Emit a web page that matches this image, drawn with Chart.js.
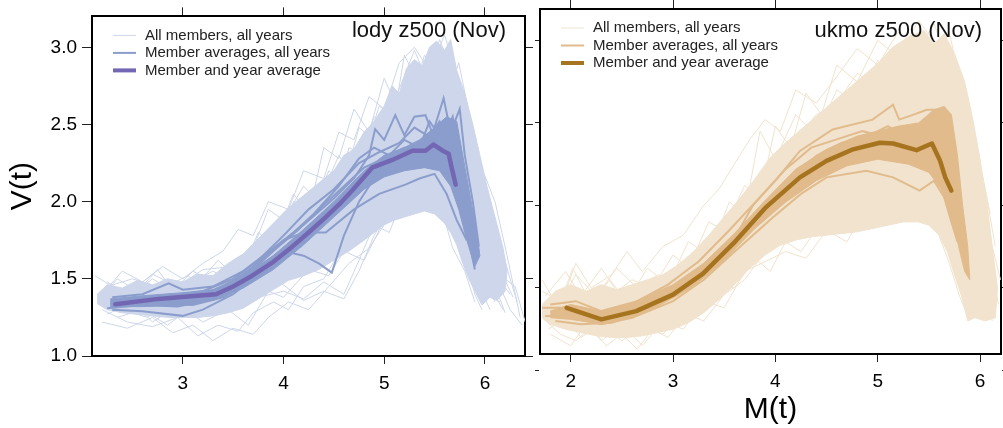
<!DOCTYPE html>
<html>
<head>
<meta charset="utf-8">
<script src="https://cdn.jsdelivr.net/npm/chart.js@4.4.1/dist/chart.umd.min.js"></script>
<style>
  body { margin: 0; background: #fff; }
  #wrap { position: relative; width: 1003px; height: 428px; }
  canvas { position: absolute; top: 0; }
  #lody { left: 0; }
  #ukmo { left: 528px; }
</style>
</head>
<body>
<div id="wrap">
  <canvas id="lody" width="535" height="428"></canvas>
  <canvas id="ukmo" width="475" height="428"></canvas>
</div>
<script>
// ---- data: [M(t), V(t)] pairs ----
var legendLabels = ['All members, all years', 'Member averages, all years', 'Member and year average'];
var vTicks = [1.0, 1.5, 2.0, 2.5, 3.0];
var lodyXTicks = [3, 4, 5, 6];
var ukmoXTicks = [2, 3, 4, 5, 6];

// lody
var lodyMean = [[2.33,1.335],[2.76,1.37],[3.05,1.385],[3.33,1.40],[3.5,1.45],[3.69,1.52],[3.9,1.61],[4.09,1.71],[4.25,1.80],[4.42,1.90],[4.55,1.98],[4.68,2.07],[4.80,2.16],[4.88,2.22],[5.08,2.27],[5.28,2.33],[5.41,2.33],[5.49,2.37],[5.58,2.33],[5.64,2.31],[5.67,2.22],[5.71,2.11]];

var lodyBand = [[2.15,1.40],[2.25,1.46],[2.4,1.44],[2.55,1.49],[2.7,1.46],[2.85,1.50],[3.0,1.48],[3.15,1.53],[3.3,1.52],[3.45,1.60],[3.6,1.66],[3.75,1.76],[3.9,1.86],[4.05,1.96],[4.2,2.04],[4.35,2.12],[4.5,2.20],[4.6,2.30],[4.7,2.34],[4.8,2.45],[4.9,2.52],[5.0,2.62],[5.08,2.75],[5.15,2.70],[5.22,2.86],[5.3,2.92],[5.38,2.88],[5.45,3.0],[5.52,3.04],[5.6,2.98],[5.66,3.05],[5.72,2.85],[5.8,2.70],[5.88,2.50],[5.95,2.30],[6.02,2.10],[6.1,1.90],[6.18,1.70],[6.22,1.55],
  [6.2,1.42],[6.12,1.36],[6.05,1.38],[5.97,1.33],[5.9,1.42],[5.84,1.50],[5.78,1.60],[5.72,1.72],[5.66,1.80],[5.6,1.86],[5.5,1.92],[5.4,1.94],[5.3,1.92],[5.2,1.90],[5.1,1.88],[5.0,1.85],[4.9,1.80],[4.8,1.75],[4.65,1.68],[4.5,1.62],[4.35,1.56],[4.2,1.52],[4.05,1.49],[3.9,1.43],[3.75,1.37],[3.6,1.31],[3.45,1.28],[3.3,1.26],[3.15,1.25],[3.0,1.25],[2.85,1.25],[2.7,1.26],[2.55,1.27],[2.4,1.28],[2.25,1.30],[2.15,1.34]];

var lodyMembers = [
  [[2.13,1.52],[2.3,1.45],[2.5,1.40],[2.7,1.50],[2.9,1.42],[3.1,1.55],[3.3,1.48],[3.5,1.62],[3.7,1.70],[3.85,1.95],[4.0,1.88],[4.2,2.1],[4.35,2.0],[4.55,2.3],[4.7,2.15],[4.9,2.55],[5.1,2.45],[5.25,2.8],[5.4,2.7],[5.55,3.05],[5.7,2.8],[5.85,2.4],[6.0,2.0],[6.1,1.7]],
  [[2.2,1.30],[2.45,1.22],[2.7,1.19],[2.95,1.25],[3.15,1.13],[3.35,1.20],[3.55,1.16],[3.7,1.28],[3.9,1.35],[4.05,1.30],[4.2,1.45],[4.4,1.50],[4.6,1.72],[4.8,1.85],[5.0,2.05],[5.2,2.2],[5.4,2.4],[5.6,2.3],[5.75,2.0],[5.85,1.75],[5.95,1.45],[6.05,1.3]],
  [[2.3,1.36],[2.5,1.30],[2.75,1.35],[3.0,1.28],[3.25,1.38],[3.5,1.34],[3.7,1.45],[3.95,1.60],[4.1,1.55],[4.3,1.75],[4.45,1.70],[4.6,1.95],[4.8,2.25],[4.95,2.1],[5.1,2.5],[5.3,2.35],[5.45,2.65],[5.6,2.55],[5.72,2.25],[5.85,1.95],[6.0,1.6],[6.15,1.45],[6.25,1.3],[6.37,1.2]],
  [[2.25,1.45],[2.5,1.50],[2.8,1.44],[3.05,1.52],[3.3,1.40],[3.55,1.55],[3.75,1.62],[3.95,1.82],[4.15,1.78],[4.35,2.05],[4.5,1.98],[4.65,2.35],[4.8,2.3],[4.95,2.62],[5.1,2.55],[5.2,2.95],[5.35,2.75],[5.5,2.9],[5.65,2.7],[5.8,2.4],[5.95,2.1],[6.1,1.85],[6.25,1.5],[6.32,1.35]],
  [[2.35,1.25],[2.6,1.30],[2.85,1.20],[3.05,1.30],[3.3,1.27],[3.55,1.38],[3.8,1.50],[4.0,1.46],[4.2,1.36],[4.4,1.42],[4.6,1.37],[4.75,1.55],[4.9,1.78],[5.05,1.95],[5.2,2.1],[5.35,2.2],[5.5,2.15],[5.65,2.0],[5.75,1.8],[5.85,1.6],[5.95,1.4]],
  [[2.2,1.40],[2.4,1.55],[2.6,1.48],[2.8,1.58],[3.0,1.50],[3.2,1.60],[3.4,1.68],[3.55,1.82],[3.7,1.78],[3.85,2.0],[4.05,1.95],[4.2,2.2],[4.4,2.15],[4.55,2.45],[4.7,2.4],[4.85,2.68],[5.0,2.6],[5.15,2.9],[5.3,3.0],[5.45,2.85],[5.6,3.08],[5.75,2.75],[5.9,2.35],[6.05,1.95],[6.2,1.6]],
  [[2.28,1.33],[2.55,1.38],[2.8,1.30],[3.1,1.42],[3.35,1.35],[3.6,1.50],[3.8,1.45],[4.0,1.65],[4.2,1.62],[4.4,1.85],[4.55,1.80],[4.7,2.0],[4.85,1.95],[5.0,2.3],[5.15,2.2],[5.35,2.45],[5.5,2.35],[5.62,2.55],[5.75,2.2],[5.88,1.8],[6.0,1.5],[6.1,1.35]],
  [[2.2,1.36],[2.45,1.33],[2.7,1.40],[2.95,1.36],[3.2,1.46],[3.45,1.42],[3.7,1.58],[3.9,1.70],[4.1,1.85],[4.3,1.95],[4.5,2.1],[4.7,2.2],[4.9,2.35],[5.1,2.4],[5.3,2.6],[5.5,2.7],[5.65,2.6],[5.8,2.3],[5.95,2.0],[6.1,1.75],[6.2,1.5],[6.3,1.45],[6.4,1.22]],
  [[2.3,1.30],[2.6,1.35],[2.9,1.28],[3.2,1.32],[3.5,1.30],[3.75,1.38],[4.0,1.42],[4.2,1.37],[4.4,1.48],[4.6,1.40],[4.75,1.62],[4.9,1.85],[5.05,1.80],[5.2,2.05],[5.4,2.1],[5.55,2.0],[5.68,1.7],[5.8,1.55],[5.9,1.35]],
  [[2.4,1.42],[2.65,1.36],[2.9,1.45],[3.15,1.40],[3.4,1.50],[3.65,1.56],[3.9,1.75],[4.1,1.70],[4.3,1.92],[4.5,1.88],[4.7,2.1],[4.9,2.02],[5.1,2.25],[5.3,2.18],[5.45,2.45],[5.6,2.3],[5.7,2.05],[5.82,1.85],[5.92,1.62],[6.05,1.45],[6.18,1.3]],
  [[2.25,1.48],[2.45,1.40],[2.7,1.53],[2.95,1.45],[3.2,1.56],[3.5,1.58],[3.7,1.65],[3.95,1.72],[4.1,2.0],[4.3,1.96],[4.45,2.2],[4.6,2.12],[4.75,2.48],[4.9,2.4],[5.05,2.7],[5.25,2.6],[5.4,2.95],[5.55,2.8],[5.7,2.5],[5.82,2.1],[5.95,1.8],[6.08,1.55],[6.25,1.4]],
  [[2.2,1.22],[2.45,1.18],[2.7,1.25],[2.9,1.15],[3.1,1.20],[3.3,1.10],[3.5,1.18],[3.7,1.14],[3.85,1.25],[4.05,1.35],[4.25,1.30],[4.45,1.45],[4.65,1.60],[4.85,1.70],[5.05,1.9],[5.25,2.0],[5.45,2.15],[5.6,2.1],[5.72,1.85],[5.82,1.6],[5.9,1.4],[5.97,1.3]],
  [[2.15,1.35],[2.35,1.50],[2.55,1.42],[2.75,1.56],[2.95,1.38],[3.15,1.47],[3.35,1.62],[3.55,1.50],[3.75,1.80],[3.9,1.72],[4.1,2.05],[4.25,1.92],[4.4,2.35],[4.55,2.28],[4.7,2.6],[4.85,2.45],[5.0,2.8],[5.1,2.65],[5.3,2.98],[5.45,2.75],[5.6,2.95],[5.72,2.6],[5.85,2.25],[5.98,1.9],[6.12,1.6],[6.28,1.38]],
  [[2.25,1.27],[2.5,1.35],[2.7,1.22],[2.95,1.33],[3.2,1.22],[3.45,1.30],[3.65,1.20],[3.85,1.42],[4.0,1.38],[4.25,1.56],[4.45,1.52],[4.6,1.68],[4.8,1.62],[5.0,1.88],[5.2,1.92],[5.4,2.05],[5.55,2.25],[5.68,2.0],[5.78,1.7],[5.88,1.5],[6.0,1.4],[6.15,1.35]],
  [[2.3,1.40],[2.55,1.45],[2.8,1.36],[3.05,1.46],[3.3,1.55],[3.5,1.48],[3.7,1.66],[3.9,1.62],[4.1,1.90],[4.3,1.82],[4.5,2.2],[4.65,2.05],[4.85,2.4],[5.0,2.3],[5.2,2.62],[5.35,2.52],[5.5,2.8],[5.62,2.65],[5.74,2.9],[5.85,2.55],[5.98,2.2],[6.1,2.0],[6.22,1.65],[6.35,1.25]],
  [[2.4,1.30],[2.65,1.25],[2.9,1.35],[3.1,1.26],[3.35,1.45],[3.55,1.35],[3.8,1.58],[4.0,1.55],[4.2,1.78],[4.4,1.70],[4.6,2.02],[4.8,1.98],[5.0,2.2],[5.15,2.12],[5.35,2.35],[5.5,2.2],[5.65,2.45],[5.78,2.1],[5.9,1.85],[6.02,1.55],[6.12,1.42],[6.2,1.28]]
];

var lodyAvgBand = [[2.28,1.37],[2.6,1.39],[3.0,1.41],[3.3,1.43],[3.6,1.52],[3.9,1.65],[4.2,1.82],[4.5,2.0],[4.8,2.2],[5.0,2.30],[5.2,2.35],[5.35,2.40],[5.5,2.48],[5.62,2.55],[5.72,2.52],[5.78,2.30],[5.85,2.05],[5.92,1.80],[5.95,1.65],
  [5.9,1.58],[5.82,1.75],[5.74,1.95],[5.66,2.10],[5.55,2.20],[5.4,2.22],[5.2,2.20],[5.0,2.16],[4.8,2.08],[4.5,1.90],[4.2,1.72],[3.9,1.56],[3.6,1.44],[3.3,1.36],[3.0,1.33],[2.6,1.32],[2.28,1.32]];

var lodyMemberAvgs = [
  [[2.3,1.38],[2.6,1.40],[2.86,1.47],[3.0,1.43],[3.3,1.45],[3.6,1.55],[3.9,1.70],[4.2,1.85],[4.5,2.02],[4.7,2.15],[4.85,2.30],[4.91,2.47],[5.0,2.40],[5.11,2.56],[5.2,2.43],[5.3,2.55],[5.41,2.56],[5.48,2.44],[5.59,2.67],[5.66,2.45],[5.75,2.60],[5.8,2.3],[5.88,2.0],[5.94,1.71]],
  [[2.3,1.30],[2.6,1.29],[3.0,1.26],[3.2,1.30],[3.5,1.40],[3.8,1.55],[4.0,1.68],[4.2,1.65],[4.35,1.60],[4.48,1.54],[4.6,1.78],[4.75,2.0],[4.9,2.15],[5.1,2.25],[5.3,2.3],[5.5,2.28],[5.65,2.2],[5.75,1.95],[5.85,1.72],[5.90,1.56]],
  [[2.28,1.34],[2.7,1.36],[3.1,1.36],[3.4,1.44],[3.7,1.58],[4.0,1.75],[4.2,1.80],[4.42,1.80],[4.7,1.95],[4.95,2.05],[5.21,2.11],[5.35,2.15],[5.5,2.18],[5.62,2.05],[5.72,1.88],[5.82,1.75]],
  [[2.35,1.33],[2.8,1.38],[3.2,1.42],[3.5,1.50],[3.75,1.62],[4.0,1.78],[4.25,1.95],[4.5,2.08],[4.75,2.25],[4.95,2.32],[5.15,2.38],[5.3,2.48],[5.45,2.42],[5.55,2.52],[5.65,2.35],[5.72,2.15],[5.8,2.0],[5.87,1.85]],
  [[2.32,1.36],[2.7,1.33],[3.05,1.40],[3.35,1.38],[3.6,1.50],[3.9,1.68],[4.15,1.82],[4.4,1.98],[4.6,2.10],[4.8,2.22],[5.0,2.28],[5.2,2.35],[5.35,2.30],[5.5,2.45],[5.6,2.40],[5.7,2.48],[5.76,2.2],[5.82,1.95],[5.88,1.8]],
  [[2.25,1.31],[2.6,1.33],[2.95,1.32],[3.25,1.36],[3.55,1.46],[3.85,1.62],[4.1,1.75],[4.35,1.90],[4.6,2.05],[4.8,2.15],[5.0,2.22],[5.2,2.28],[5.4,2.35],[5.52,2.30],[5.62,2.38],[5.7,2.25],[5.78,2.05],[5.85,1.88],[5.92,1.65]],
  [[2.3,1.35],[2.65,1.37],[3.0,1.39],[3.3,1.41],[3.6,1.52],[3.85,1.66],[4.1,1.80],[4.3,1.92],[4.55,2.10],[4.75,2.28],[4.9,2.35],[5.05,2.30],[5.2,2.40],[5.35,2.35],[5.45,2.52],[5.58,2.40],[5.68,2.55],[5.74,2.30],[5.8,2.10],[5.86,1.9]],
  [[2.3,1.32],[2.7,1.34],[3.1,1.33],[3.4,1.38],[3.65,1.47],[3.9,1.60],[4.15,1.72],[4.4,1.86],[4.62,2.00],[4.8,2.10],[5.0,2.18],[5.2,2.24],[5.4,2.28],[5.55,2.25],[5.65,2.30],[5.72,2.10],[5.8,1.92],[5.9,1.75]]
];

// ukmo
var ukmoMean = [[1.96,1.38],[2.30,1.31],[2.64,1.36],[3.00,1.46],[3.29,1.585],[3.59,1.77],[3.91,1.99],[4.24,2.17],[4.50,2.27],[4.76,2.34],[5.02,2.38],[5.15,2.375],[5.38,2.335],[5.53,2.375],[5.61,2.27],[5.66,2.17],[5.72,2.09]];

var ukmoBand = [[1.72,1.40],[1.85,1.48],[2.0,1.52],[2.15,1.48],[2.3,1.52],[2.45,1.49],[2.6,1.52],[2.75,1.55],[2.9,1.58],[3.05,1.64],[3.2,1.72],[3.35,1.82],[3.5,1.93],[3.65,2.04],[3.8,2.16],[3.95,2.29],[4.1,2.38],[4.25,2.46],[4.4,2.54],[4.55,2.62],[4.7,2.70],[4.85,2.78],[5.0,2.86],[5.15,2.96],[5.3,3.02],[5.45,3.06],[5.55,2.98],[5.65,3.04],[5.75,2.92],[5.85,2.75],[5.93,2.52],[6.0,2.28],[6.07,2.0],[6.12,1.75],[6.17,1.5],
  [6.15,1.32],[6.05,1.30],[5.95,1.32],[5.88,1.30],[5.82,1.45],[5.75,1.58],[5.68,1.72],[5.6,1.82],[5.5,1.88],[5.4,1.90],[5.25,1.90],[5.1,1.88],[4.95,1.86],[4.8,1.84],[4.65,1.83],[4.5,1.82],[4.35,1.81],[4.2,1.79],[4.05,1.76],[3.9,1.70],[3.75,1.62],[3.6,1.52],[3.45,1.43],[3.3,1.35],[3.15,1.29],[3.0,1.25],[2.85,1.23],[2.7,1.21],[2.55,1.20],[2.4,1.20],[2.25,1.21],[2.1,1.23],[1.95,1.25],[1.8,1.28],[1.72,1.32]];

var ukmoMembers = [
  [[1.72,1.32],[1.9,1.22],[2.05,1.18],[2.2,1.26],[2.35,1.15],[2.5,1.22],[2.65,1.13],[2.8,1.25],[2.95,1.20],[3.1,1.32],[3.3,1.40],[3.5,1.58],[3.7,1.72],[3.9,1.95],[4.1,2.05],[4.3,2.22],[4.5,2.30],[4.7,2.45],[4.9,2.40],[5.1,2.55],[5.3,2.48],[5.5,2.6],[5.65,2.4],[5.8,2.0],[5.92,1.65],[6.02,1.35]],
  [[1.75,1.45],[1.95,1.60],[2.1,1.45],[2.3,1.62],[2.45,1.48],[2.6,1.55],[2.8,1.50],[3.0,1.70],[3.15,1.62],[3.35,1.90],[3.5,1.85],[3.7,2.12],[3.85,2.05],[4.0,2.48],[4.15,2.35],[4.3,2.68],[4.45,2.55],[4.6,2.85],[4.8,2.75],[5.0,3.0],[5.2,2.9],[5.4,3.12],[5.6,2.95],[5.75,2.7],[5.9,2.3],[6.02,1.9],[6.12,1.6],[6.18,1.4]],
  [[1.8,1.35],[2.0,1.40],[2.2,1.32],[2.4,1.38],[2.6,1.30],[2.8,1.40],[3.0,1.36],[3.2,1.50],[3.4,1.62],[3.6,1.78],[3.8,1.95],[4.0,2.10],[4.2,2.05],[4.4,2.30],[4.6,2.25],[4.8,2.55],[5.0,2.48],[5.2,2.75],[5.4,2.65],[5.55,2.85],[5.7,2.6],[5.85,2.2],[5.95,1.8],[6.08,1.45]],
  [[1.85,1.28],[2.05,1.35],[2.25,1.25],[2.45,1.32],[2.65,1.28],[2.85,1.30],[3.05,1.38],[3.25,1.45],[3.45,1.52],[3.6,1.50],[3.8,1.68],[3.95,1.60],[4.1,1.78],[4.25,1.72],[4.45,1.90],[4.65,1.85],[4.85,2.05],[5.05,2.00],[5.25,2.15],[5.45,2.10],[5.6,2.0],[5.72,1.75],[5.82,1.55],[5.9,1.32]],
  [[1.9,1.40],[2.05,1.65],[2.2,1.50],[2.4,1.58],[2.55,1.72],[2.7,1.60],[2.9,1.75],[3.1,1.82],[3.3,2.00],[3.45,2.10],[3.6,2.25],[3.75,2.40],[3.9,2.52],[4.05,2.45],[4.2,2.70],[4.4,2.62],[4.6,2.78],[4.8,2.95],[5.0,2.85],[5.2,3.05],[5.4,2.95],[5.55,3.1],[5.7,2.85],[5.85,2.45],[5.97,2.1],[6.1,1.8],[6.2,1.55]],
  [[2.0,1.30],[2.2,1.40],[2.4,1.28],[2.6,1.42],[2.8,1.35],[3.0,1.48],[3.2,1.55],[3.4,1.72],[3.55,1.68],[3.75,1.88],[3.95,2.02],[4.15,2.20],[4.35,2.15],[4.55,2.40],[4.75,2.32],[4.95,2.55],[5.15,2.45],[5.35,2.70],[5.5,2.55],[5.65,2.75],[5.78,2.4],[5.9,2.0],[6.0,1.7],[6.1,1.45],[6.15,1.32]],
  [[1.75,1.36],[1.95,1.30],[2.15,1.38],[2.35,1.30],[2.55,1.35],[2.75,1.28],[2.95,1.38],[3.15,1.35],[3.35,1.50],[3.55,1.62],[3.75,1.78],[3.95,1.92],[4.15,1.98],[4.35,2.02],[4.55,2.12],[4.75,2.05],[4.95,2.20],[5.15,2.10],[5.35,2.28],[5.5,2.1],[5.62,1.9],[5.74,1.65],[5.85,1.45]],
  [[1.78,1.25],[1.95,1.32],[2.1,1.20],[2.3,1.28],[2.5,1.18],[2.7,1.26],[2.9,1.22],[3.1,1.35],[3.3,1.30],[3.5,1.46],[3.7,1.55],[3.9,1.72],[4.1,1.88],[4.3,2.0],[4.5,2.12],[4.7,2.20],[4.9,2.35],[5.1,2.30],[5.3,2.48],[5.5,2.40],[5.68,2.5],[5.82,2.15],[5.95,1.75],[6.05,1.5],[6.12,1.3]],
  [[1.72,1.48],[1.9,1.42],[2.05,1.58],[2.25,1.45],[2.45,1.62],[2.65,1.50],[2.85,1.58],[3.05,1.55],[3.25,1.68],[3.45,1.80],[3.65,1.95],[3.85,2.10],[4.0,2.30],[4.2,2.40],[4.4,2.55],[4.6,2.62],[4.8,2.80],[5.0,2.72],[5.2,2.95],[5.4,2.85],[5.6,3.0],[5.75,2.8],[5.88,2.55],[6.0,2.25],[6.1,1.95]],
  [[1.72,1.55],[1.88,1.38],[2.02,1.62],[2.2,1.40],[2.38,1.55],[2.55,1.42],[2.75,1.62],[2.95,1.52],[3.15,1.78],[3.35,1.70],[3.55,2.02],[3.7,1.95],[3.85,2.45],[4.0,2.28],[4.2,2.55],[4.4,2.42],[4.6,2.70],[4.8,2.62],[5.0,2.88],[5.2,2.78],[5.4,3.02],[5.55,2.88],[5.7,3.05],[5.82,2.7],[5.95,2.4],[6.05,2.1],[6.15,1.75]],
  [[1.8,1.22],[2.0,1.15],[2.15,1.28],[2.3,1.18],[2.5,1.28],[2.7,1.15],[2.9,1.30],[3.1,1.25],[3.3,1.42],[3.5,1.38],[3.7,1.60],[3.9,1.66],[4.1,1.72],[4.3,1.68],[4.5,1.85],[4.7,1.78],[4.9,2.0],[5.1,1.95],[5.3,2.1],[5.45,1.95],[5.58,1.85],[5.7,1.65],[5.8,1.45],[5.9,1.3]],
  [[1.9,1.30],[2.1,1.35],[2.3,1.45],[2.5,1.38],[2.7,1.48],[2.9,1.45],[3.1,1.60],[3.3,1.78],[3.5,1.75],[3.7,2.0],[3.9,2.1],[4.1,2.25],[4.3,2.4],[4.5,2.5],[4.7,2.6],[4.9,2.62],[5.1,2.7],[5.3,2.62],[5.5,2.8],[5.65,2.6],[5.8,2.25],[5.9,1.95],[6.02,1.6],[6.1,1.4]],
  [[2.05,1.25],[2.25,1.32],[2.45,1.20],[2.65,1.35],[2.85,1.28],[3.05,1.32],[3.25,1.40],[3.45,1.55],[3.65,1.68],[3.85,1.82],[4.05,1.80],[4.25,1.95],[4.45,1.98],[4.65,2.1],[4.85,2.15],[5.05,2.25],[5.25,2.2],[5.45,2.35],[5.6,2.2],[5.75,1.9],[5.85,1.6],[5.95,1.45],[6.05,1.32]]
];

var ukmoAvgBand = [[1.8,1.36],[2.0,1.40],[2.3,1.36],[2.6,1.41],[3.0,1.52],[3.3,1.65],[3.6,1.83],[3.9,2.03],[4.2,2.22],[4.5,2.34],[4.8,2.42],[5.0,2.45],[5.2,2.48],[5.4,2.50],[5.55,2.58],[5.65,2.60],[5.72,2.55],[5.78,2.30],[5.83,2.00],[5.88,1.75],[5.9,1.55],
  [5.85,1.60],[5.78,1.78],[5.7,1.95],[5.62,2.10],[5.5,2.20],[5.3,2.25],[5.0,2.28],[4.7,2.24],[4.4,2.15],[4.1,2.02],[3.8,1.86],[3.5,1.67],[3.2,1.51],[2.9,1.41],[2.6,1.32],[2.3,1.28],[2.0,1.31],[1.8,1.32]];

var ukmoMemberAvgs = [
  [[1.72,1.38],[1.96,1.38],[2.3,1.34],[2.7,1.40],[3.0,1.50],[3.3,1.62],[3.6,1.80],[3.78,2.0],[4.0,2.15],[4.24,2.33],[4.56,2.46],[4.95,2.52],[5.15,2.61],[5.21,2.52],[5.35,2.55],[5.48,2.58],[5.61,2.58],[5.68,2.35],[5.75,2.05],[5.83,1.69]],
  [[1.75,1.33],[2.0,1.33],[2.3,1.28],[2.6,1.32],[3.0,1.42],[3.3,1.55],[3.6,1.72],[3.98,1.93],[4.25,2.07],[4.5,2.17],[4.89,2.21],[5.15,2.17],[5.41,2.09],[5.55,2.15],[5.65,2.05],[5.72,1.9],[5.78,1.78]],
  [[1.8,1.40],[2.05,1.42],[2.3,1.36],[2.65,1.42],[2.95,1.52],[3.25,1.66],[3.55,1.85],[3.85,2.05],[4.1,2.22],[4.35,2.35],[4.6,2.40],[4.85,2.45],[5.05,2.42],[5.25,2.48],[5.45,2.44],[5.6,2.50],[5.7,2.30],[5.78,2.0],[5.85,1.8]],
  [[1.9,1.35],[2.2,1.31],[2.5,1.33],[2.8,1.40],[3.1,1.52],[3.4,1.68],[3.7,1.87],[3.95,2.02],[4.2,2.15],[4.45,2.25],[4.7,2.30],[4.95,2.35],[5.2,2.32],[5.4,2.38],[5.55,2.30],[5.65,2.40],[5.72,2.15],[5.8,1.9]],
  [[1.95,1.37],[2.25,1.32],[2.6,1.38],[2.95,1.47],[3.25,1.60],[3.55,1.78],[3.85,1.97],[4.1,2.12],[4.4,2.22],[4.7,2.27],[5.0,2.32],[5.25,2.28],[5.45,2.25],[5.58,2.35],[5.66,2.25],[5.74,2.0],[5.8,1.85]],
  [[1.85,1.30],[2.1,1.28],[2.4,1.29],[2.75,1.36],[3.05,1.46],[3.35,1.60],[3.65,1.80],[3.9,1.98],[4.15,2.16],[4.4,2.30],[4.65,2.38],[4.9,2.42],[5.1,2.48],[5.3,2.40],[5.5,2.52],[5.62,2.45],[5.7,2.25],[5.77,2.05],[5.84,1.75]]
];

// ---- drawing ----
var family = "'Liberation Sans', Arial, Helvetica, sans-serif";
Chart.defaults.font.family = family;
Chart.defaults.color = '#000';

var panelDeco = {
  id: 'panelDeco',
  afterDraw: function(chart, args, opts) {
    var ctx = chart.ctx, a = chart.chartArea;
    var widths = [1, 2, 4];
    var cols = [opts.light, opts.medium, opts.mean];
    ctx.save();
    ctx.font = '15px ' + family;
    ctx.textBaseline = 'middle';
    ctx.textAlign = 'left';
    legendLabels.forEach(function(t, i) {
      var y = a.top + 19 + i * 17.5;
      ctx.strokeStyle = cols[i];
      ctx.lineWidth = widths[i];
      ctx.beginPath();
      ctx.moveTo(a.left + 21, y);
      ctx.lineTo(a.left + 44, y);
      ctx.stroke();
      ctx.fillStyle = '#222';
      ctx.fillText(t, a.left + 53, y);
    });
    ctx.font = '22px ' + family;
    ctx.textAlign = 'right';
    ctx.textBaseline = 'alphabetic';
    ctx.fillStyle = '#111';
    ctx.fillText(opts.title, a.right - 19, 37);
    ctx.restore();
  }
};

function buildDatasets(band, members, avgBand, avgs, mean, pal) {
  var ds = [];
  ds.push({ data: band, showLine: true, fill: 'shape', backgroundColor: pal.light, borderColor: pal.light,
            borderWidth: 1, pointRadius: 0, order: 5 });
  members.forEach(function(m) {
    ds.push({ data: m, showLine: true, borderColor: pal.light, borderWidth: 1, pointRadius: 0, order: 4 });
  });
  ds.push({ data: avgBand, showLine: true, fill: 'shape', backgroundColor: pal.medium, borderColor: pal.medium,
            borderWidth: 1, pointRadius: 0, order: 3 });
  avgs.forEach(function(m) {
    ds.push({ data: m, showLine: true, borderColor: pal.medium, borderWidth: 2, pointRadius: 0, order: 2 });
  });
  ds.push({ data: mean, showLine: true, borderColor: pal.mean, borderWidth: 4.5, pointRadius: 0, order: 1,
            borderJoinStyle: 'round', borderCapStyle: 'round' });
  return ds;
}

function setTicks(list) {
  return function(s) { s.ticks = list.map(function(v) { return { value: v }; }); };
}
function fixW(w) { return function(s) { s.width = w; }; }
function fixH(h) { return function(s) { s.height = h; }; }

var tickFont = { size: 19 };
var border = { display: true, color: '#000', width: 2 };
function marks(len) {
  return { drawOnChartArea: false, drawTicks: true, tickLength: len, tickColor: '#222', lineWidth: 1 };
}

var lodyPal = { light: '#cdd6ea', medium: '#8b9dcd', mean: '#7366b3' };
var ukmoPal = { light: '#f1e3cd', medium: '#e1bb8b', mean: '#a6731f' };

new Chart(document.getElementById('lody'), {
  type: 'scatter',
  data: { datasets: buildDatasets(lodyBand, lodyMembers, lodyAvgBand, lodyMemberAvgs, lodyMean, lodyPal) },
  options: {
    responsive: false,
    animation: false,
    events: [],
    layout: { padding: 0 },
    plugins: {
      legend: { display: false },
      tooltip: { enabled: false },
      panelDeco: { title: 'lody z500 (Nov)', light: lodyPal.light, medium: lodyPal.medium, mean: lodyPal.mean }
    },
    scales: {
      x: { type: 'linear', position: 'bottom', min: 2.099, max: 6.398, afterBuildTicks: setTicks(lodyXTicks),
           ticks: { font: tickFont, color: '#000', padding: 8 }, grid: marks(8), border: border, afterFit: fixH(72) },
      x2: { type: 'linear', position: 'top', min: 2.099, max: 6.398, afterBuildTicks: setTicks(lodyXTicks),
            ticks: { display: false }, grid: marks(9), border: border, afterFit: fixH(9) },
      y: { type: 'linear', position: 'left', min: 1.0, max: 3.2, afterBuildTicks: setTicks(vTicks),
           ticks: { font: tickFont, color: '#000', padding: 5, callback: function(v) { return v.toFixed(1); } },
           grid: marks(10), border: border, afterFit: fixW(92),
           title: { display: true, text: 'V(t)', font: { size: 30 }, color: '#000', padding: { top: 5, bottom: 0 } } },
      y2: { type: 'linear', position: 'right', min: 1.0, max: 3.2, afterBuildTicks: setTicks(vTicks),
            ticks: { display: false }, grid: marks(8), border: border, afterFit: fixW(10) }
    }
  },
  plugins: [panelDeco]
});

new Chart(document.getElementById('ukmo'), {
  type: 'scatter',
  data: { datasets: buildDatasets(ukmoBand, ukmoMembers, ukmoAvgBand, ukmoMemberAvgs, ukmoMean, ukmoPal) },
  options: {
    responsive: false,
    animation: false,
    events: [],
    layout: { padding: 0 },
    plugins: {
      legend: { display: false },
      tooltip: { enabled: false },
      panelDeco: { title: 'ukmo z500 (Nov)', light: ukmoPal.light, medium: ukmoPal.medium, mean: ukmoPal.mean }
    },
    scales: {
      x: { type: 'linear', position: 'bottom', min: 1.70, max: 6.205, afterBuildTicks: setTicks(ukmoXTicks),
           ticks: { font: tickFont, color: '#000', padding: 8 }, grid: marks(8), border: border, afterFit: fixH(74),
           title: { display: true, text: 'M(t)', font: { size: 30 }, color: '#000', padding: { top: 0, bottom: 0 } } },
      x2: { type: 'linear', position: 'top', min: 1.70, max: 6.205, afterBuildTicks: setTicks(ukmoXTicks),
            ticks: { display: false }, grid: marks(9), border: border, afterFit: fixH(9) },
      y: { type: 'linear', position: 'left', min: 1.10, max: 3.19, afterBuildTicks: setTicks(vTicks),
           ticks: { display: false }, grid: marks(5), border: border, afterFit: fixW(12) },
      y2: { type: 'linear', position: 'right', min: 1.10, max: 3.19, afterBuildTicks: setTicks(vTicks),
            ticks: { display: false }, grid: marks(3), border: border, afterFit: fixW(2) }
    }
  },
  plugins: [panelDeco]
});
</script>
</body>
</html>
